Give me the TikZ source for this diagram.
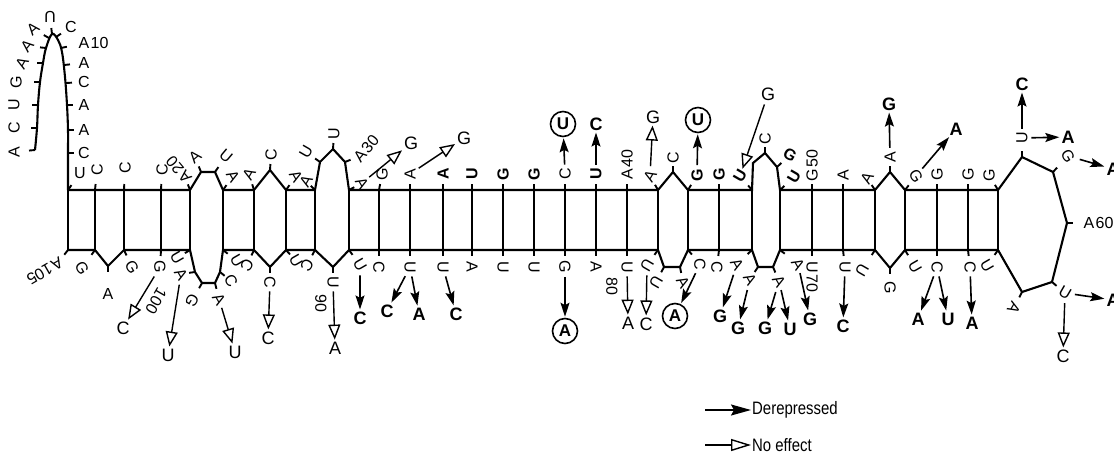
\documentclass[tikz,border=0pt]{standalone}
\usepackage{fontspec}
\setmainfont{Liberation Sans}
\newfontfamily\legfont{Liberation Sans}[FakeStretch=0.83]
\usetikzlibrary{arrows.meta,calc}
\begin{document}
\begin{tikzpicture}[x=1pt,y=-1pt,
  strand/.style={line width=2.1pt,line join=miter},
  tk/.style={line width=1.9pt},
  nt/.style={font=\fontsize{16}{16}\selectfont,inner sep=0.5pt},
  ntb/.style={font=\fontsize{16}{16}\selectfont\bfseries,inner sep=0.5pt},
  num/.style={font=\fontsize{16}{16}\selectfont,inner sep=0.5pt,anchor=west},
  mb/.style={font=\fontsize{18}{18}\selectfont\bfseries,inner sep=1pt},
  mr/.style={font=\fontsize{18}{18}\selectfont,inner sep=1pt},
  mc/.style={circle,draw,line width=1.6pt,minimum size=25pt,inner sep=0pt,font=\fontsize{17}{17}\selectfont\bfseries},
  der/.style={line width=1.6pt,-{Stealth[length=14pt,width=9pt,inset=2.5pt]},shorten <=3pt,shorten >=1pt},
  noe/.style={line width=1.4pt,-{Triangle[open,length=15pt,width=12pt]},shorten <=3pt,shorten >=1pt},
  leg/.style={anchor=west,font=\legfont\fontsize{18}{18}\selectfont,inner sep=1pt},
]
\useasboundingbox (0,0) rectangle (1114,471);

% rungs
\foreach \i/\x in {1/68,2/95,3/124,4/161,5/190,6/223,7/254,8/286,9/315,10/349,11/379,12/410,13/443,14/472,15/503,16/534,17/565,18/596,19/627,20/658,21/688,22/719,23/752,24/780,25/812,26/843,27/875,28/905,29/937,30/968,31/998}{
  \coordinate (t\i) at (\x,190);
  \coordinate (b\i) at (\x,250);
  \draw[strand] (t\i) -- (b\i);
}
% loop vertices
\coordinate (v21) at (201,172); \coordinate (v22) at (215,172);
\coordinate (v25) at (270,170);
\coordinate (v28) at (320,162); \coordinate (v29) at (333,149); \coordinate (v30) at (345,162);
\coordinate (v42) at (673,172);
\coordinate (v46) at (753,163); \coordinate (v47) at (765,153); \coordinate (v48) at (777,167);
\coordinate (v53) at (890,172);
\coordinate (v58) at (1022,157); \coordinate (v59) at (1053,172); \coordinate (v60) at (1067,223);
\coordinate (v61) at (1052,282); \coordinate (v62) at (1022,292);
\coordinate (v67) at (890,268);
\coordinate (v72) at (773,267); \coordinate (v73) at (758,267);
\coordinate (v77) at (680,267); \coordinate (v78) at (664,267);
\coordinate (v90) at (333,267); \coordinate (v93) at (270,267);
\coordinate (v96) at (220,272); \coordinate (v97) at (215,283); \coordinate (v98) at (202,283); \coordinate (v99) at (195,272);
\coordinate (v103) at (108,266);

% strands
\draw[strand] (t1) -- (t5) -- (v21) -- (v22) -- (t6) -- (t7) -- (v25) -- (t8) -- (t9) -- (v28) -- (v29) -- (v30) -- (t10)
  -- (t20) -- (v42) -- (t21) -- (t23) -- (v46) -- (v47) -- (v48) -- (t24) -- (t27) -- (v53) -- (t28) -- (t31)
  -- (v58) -- (v59) -- (v60) -- (v61) -- (v62) -- (b31) -- (b28) -- (v67) -- (b27) -- (b24) -- (v72) -- (v73) -- (b23)
  -- (b21) -- (v77) -- (v78) -- (b20) -- (b10) -- (v90) -- (b9) -- (b8) -- (v93) -- (b7) -- (b6) -- (v96) -- (v97)
  -- (v98) -- (v99) -- (b5) -- (b3) -- (v103) -- (b2) -- (b1);

% hairpin arch
\foreach \i/\x/\y in {1/35/150,2/37/128,3/38/105,4/40/82,5/43/63,6/46/48,7/49/38,8/52/34,9/56/37,10/61/48,11/64/65,12/66/83,13/67/105,14/68/130,15/68/153}
  \coordinate (p\i) at (\x,\y);
\draw[strand] plot[smooth,tension=0.6] coordinates {(35,150) (37,128) (38,105) (40,82) (43,63) (46,48) (52,34) (58,40) (62,52) (65,77) (67,105) (68,130) (68,153) (68,190)};

% arch labels
\node[nt,rotate=90] (a1) at (14,152) {A};
\node[nt,rotate=90] (a2) at (14,128) {C};
\node[nt,rotate=90] (a3) at (14,105) {U};
\node[nt,rotate=90] (a4) at (16,82) {G};
\node[nt,rotate=60] (a5) at (22,63) {A};
\node[nt,rotate=50] (a6) at (27,46) {A};
\node[nt,rotate=40] (a7) at (33,29) {A};
\node[nt,rotate=180] (a8) at (50,17) {U};
\node[nt] (a9) at (71,27) {C};
\node[nt] (a10) at (84,43) {A};
\node[num] (k10) at (a10.east) {10};
\node[nt] (a11) at (84,63) {A};
\node[nt] (a12) at (84,82) {C};
\node[nt] (a13) at (84,105) {A};
\node[nt] (a14) at (84,130) {A};
\node[nt] (a15) at (84,153) {C};

% top labels
\node[nt] (n16) at (80,173) {U};
\node[nt,rotate=90] (n17) at (97,170) {C};
\node[nt,rotate=90] (n18) at (125,168) {C};
\node[nt,rotate=90] (n19) at (162,170) {C};
\node[nt,rotate=130] (n20) at (185,177) {A};
\node[num,rotate=130] (k20) at (n20.east) {20};
\node[nt,rotate=40] (n21) at (195,157) {A};
\node[nt,rotate=-40] (n22) at (226,156) {U};
\node[nt,rotate=-60] (n23) at (233,176) {A};
\node[nt,rotate=60] (n24) at (249,174) {A};
\node[nt,rotate=90] (n25) at (271,155) {C};
\node[nt,rotate=-60] (n26) at (296,176) {A};
\node[nt,rotate=60] (n27) at (306,181) {A};
\node[nt,rotate=60] (n28) at (306,152) {U};
\node[nt,rotate=90] (n29) at (334,134) {U};
\node[nt,rotate=50] (n30) at (360,156) {A};
\node[num,rotate=50] (k30) at (n30.east) {30};
\node[nt,rotate=-60] (n31) at (362,183) {A};
\node[nt,rotate=90] (n32) at (382,174) {G};
\node[nt,rotate=90] (n33) at (410,174) {A};
\node[ntb,rotate=90] (n34) at (443,174) {A};
\node[ntb,rotate=90] (n35) at (472,174) {U};
\node[ntb,rotate=90] (n36) at (503,174) {G};
\node[ntb,rotate=90] (n37) at (534,174) {G};
\node[nt,rotate=90] (n38) at (565,174) {C};
\node[ntb,rotate=90] (n39) at (596,174) {U};
\node[nt,rotate=90] (n40) at (627,174) {A};
\node[num,rotate=90] (k40) at (n40.east) {40};
\node[nt,rotate=60] (n41) at (650,176) {A};
\node[nt,rotate=90] (n42) at (673,158) {C};
\node[ntb,rotate=90] (n43) at (697,175) {G};
\node[ntb,rotate=90] (n44) at (719,174) {G};
\node[ntb,rotate=60] (n45) at (740,176) {U};
\node[nt,rotate=90] (n47) at (765,139) {C};
\node[ntb,rotate=-30] (n48) at (790,155) {G};
\node[ntb,rotate=60] (n49) at (794,177) {U};
\node[nt,rotate=90] (n50) at (812,175) {G};
\node[num,rotate=90] (k50) at (n50.east) {50};
\node[nt,rotate=90] (n51) at (843,175) {A};
\node[nt,rotate=60] (n52) at (867,178) {A};
\node[nt,rotate=90] (n53) at (890,157) {A};
\node[nt,rotate=-60] (n54) at (916,176) {G};
\node[nt,rotate=90] (n55) at (937,174) {G};
\node[nt,rotate=90] (n56) at (968,174) {G};
\node[nt,rotate=90] (n57) at (989,175) {G};
\node[nt,rotate=90] (n58) at (1022,138) {U};
\node[nt,rotate=-60] (n59) at (1068,156) {G};
\node[nt] (n60) at (1089,223) {A};
\node[num] (k60) at (n60.east) {60};
\node[nt,rotate=-30] (n61) at (1065,293) {U};
\node[nt,rotate=-120] (n62) at (1014,308) {A};

% bottom labels
\node[nt,rotate=-60] (n63) at (987,266) {U};
\node[nt,rotate=-90] (n64) at (970,267) {C};
\node[nt,rotate=-90] (n65) at (937,267) {C};
\node[nt,rotate=-60] (n66) at (915,267) {U};
\node[nt,rotate=-90] (n67) at (890,288) {G};
\node[nt,rotate=-120] (n68) at (862,270) {U};
\node[nt,rotate=-90] (n69) at (845,267) {U};
\node[nt,rotate=-90] (n70) at (812,267) {U};
\node[num,rotate=-90] (k70) at (n70.east) {70};
\node[nt,rotate=-60] (n71) at (798,264) {A};
\node[nt,rotate=-60] (n72) at (779,281) {A};
\node[nt,rotate=-60] (n73) at (750,279) {A};
\node[nt,rotate=-60] (n74) at (737,264) {A};
\node[nt,rotate=-90] (n75) at (717,267) {C};
\node[nt,rotate=-90] (n76) at (700,264) {C};
\node[nt,rotate=-60] (n77) at (683,282) {A};
\node[nt,rotate=-120] (n78) at (656,282) {U};
\node[nt,rotate=-120] (n79) at (647,265) {U};
\node[nt,rotate=-90] (n80) at (627,267) {U};
\node[nt,rotate=-90] (k80) at (612,286) {80};
\node[nt,rotate=-90] (n81) at (596,267) {A};
\node[nt,rotate=-90] (n82) at (565,267) {G};
\node[nt,rotate=-90] (n83) at (534,267) {U};
\node[nt,rotate=-90] (n84) at (503,267) {U};
\node[nt,rotate=-90] (n85) at (472,267) {A};
\node[nt,rotate=-90] (n86) at (443,267) {U};
\node[nt,rotate=-90] (n87) at (410,267) {U};
\node[nt,rotate=-90] (n88) at (379,267) {C};
\node[nt,rotate=-60] (n89) at (360,265) {U};
\node[nt,rotate=-90] (n90) at (333,282) {U};
\node[nt,rotate=-90] (k90) at (321,303) {90};
\node[nt,rotate=-120] (n91) at (307,265) {C};
\node[nt,rotate=-60] (n92) at (296,261) {U};
\node[nt,rotate=-90] (n93) at (270,282) {C};
\node[nt,rotate=-120] (n94) at (247,265) {C};
\node[nt,rotate=-60] (n95) at (237,261) {U};
\node[nt,rotate=-60] (n96) at (231,281) {C};
\node[nt,rotate=-60] (n97) at (219,299) {A};
\node[nt,rotate=-120] (n98) at (192,301) {G};
\node[nt,rotate=-60] (n99) at (181,274) {A};
\node[nt,rotate=-60] (n100) at (177,258) {U};
\node[nt,rotate=-120] (k100) at (156,301) {100};
\node[nt,rotate=-90] (n101) at (160,267) {G};
\node[nt,rotate=-60] (n102) at (132,267) {G};
\node[nt] (n103) at (108,294) {A};
\node[nt,rotate=-60] (n104) at (82,268) {G};
\node[nt,rotate=210] (n105) at (57,264) {A};
\node[num,rotate=210] (k105) at (n105.east) {105};

% ticks
\foreach \p/\n in {p1/a1,p2/a2,p3/a3,p4/a4,p5/a5,p6/a6,p7/a7,p8/a8,p9/a9,p10/a10,p11/a11,p12/a12,p13/a13,p14/a14,p15/a15,
  t1/n16,t2/n17,t3/n18,t4/n19,t5/n20,v21/n21,v22/n22,t6/n23,t7/n24,v25/n25,t8/n26,t9/n27,v28/n28,v29/n29,v30/n30,t10/n31,
  t11/n32,t12/n33,t13/n34,t14/n35,t15/n36,t16/n37,t17/n38,t18/n39,t19/n40,t20/n41,v42/n42,t21/n43,t22/n44,t23/n45,
  v47/n47,v48/n48,t24/n49,t25/n50,t26/n51,t27/n52,v53/n53,t28/n54,t29/n55,t30/n56,t31/n57,v58/n58,v59/n59,v60/n60,v61/n61,v62/n62,
  b31/n63,b30/n64,b29/n65,b28/n66,v67/n67,b27/n68,b26/n69,b25/n70,b24/n71,v72/n72,v73/n73,b23/n74,b22/n75,b21/n76,v77/n77,v78/n78,
  b20/n79,b19/n80,b18/n81,b17/n82,b16/n83,b15/n84,b14/n85,b13/n86,b12/n87,b11/n88,b10/n89,v90/n90,b9/n91,b8/n92,v93/n93,b7/n94,b6/n95,
  v96/n96,v97/n97,v98/n98,v99/n99,b5/n100,b4/n101,b3/n102,v103/n103,b2/n104,b1/n105}
  \draw[tk] (\p) -- ($(\p)!6pt!(\n)$);

% mutation targets (top)
\node[mr] (g31) at (411,143) {G};
\node[mr] (g33) at (464,138) {G};
\node[mc] (u38) at (563,124) {U};
\node[mb] (c39) at (596,124) {C};
\node[mr] (g41) at (653,117) {G};
\node[mc] (u43) at (698,120) {U};
\node[mr] (g45) at (768,94) {G};
\node[mb] (g53) at (889,104) {G};
\node[mb] (a54) at (956,129) {A};
\node[mb] (c58) at (1022,84) {C};
\node[mb] (a58) at (1068,137) {A};
\node[mb] (a59) at (1113,169) {A};
% mutation targets (bottom)
\node[mr] (u99) at (168,355) {U};
\node[mr] (c101) at (123,328) {C};
\node[mr] (u97) at (235,352) {U};
\node[mr] (c93) at (268,338) {C};
\node[mr] (a90) at (335,348) {A};
\node[mb] (c89) at (360,318) {C};
\node[mb] (c87) at (387,311) {C};
\node[mb] (a87) at (419,314) {A};
\node[mb] (c86) at (456,314) {C};
\node[mc] (a82) at (565,331) {A};
\node[mr] (a80) at (628,323) {A};
\node[mr] (c79) at (646,324) {C};
\node[mc] (a76) at (675,316) {A};
\node[mb] (g74) at (720,316) {G};
\node[mb] (g73) at (738,328) {G};
\node[mb] (g72) at (765,328) {G};
\node[mb] (u72) at (790,329) {U};
\node[mb] (g71) at (810,319) {G};
\node[mb] (c69) at (843,326) {C};
\node[mb] (a65) at (918,319) {A};
\node[mb] (u65) at (948,319) {U};
\node[mb] (a64) at (972,323) {A};
\node[mb] (a61) at (1113,300) {A};
\node[mr] (c61) at (1063,356) {C};

% mutation arrows
\draw[noe] (n31) -- (g31);
\draw[noe] (n33) -- (g33);
\draw[der] (n38) -- (u38);
\draw[der] (n39) -- (c39);
\draw[noe] (n41) -- (g41);
\draw[der] (n43) -- (u43);
\draw[noe] (g45) -- (n45);
\draw[der] (n53) -- (g53);
\draw[der] (n54) -- (a54);
\draw[der] (n58) -- (c58);
\draw[der] (n58) -- (a58);
\draw[der] (n59) -- (a59);
\draw[noe] (n99) -- (u99);
\draw[noe] (n101) -- (c101);
\draw[noe] (n97) -- (u97);
\draw[noe] (n93) -- (c93);
\draw[noe] (n90) -- (a90);
\draw[der] (n89) -- (c89);
\draw[der] (n87) -- (c87);
\draw[der] (n87) -- (a87);
\draw[der] (n86) -- (c86);
\draw[der] (n82) -- (a82);
\draw[noe] (n80) -- (a80);
\draw[noe] (n79) -- (c79);
\draw[der] (n76) -- (a76);
\draw[der] (n74) -- (g74);
\draw[der] (n73) -- (g73);
\draw[der] (n72) -- (g72);
\draw[der] (n72) -- (u72);
\draw[der] (n71) -- (g71);
\draw[der] (n69) -- (c69);
\draw[der] (n65) -- (a65);
\draw[der] (n65) -- (u65);
\draw[der] (n64) -- (a64);
\draw[der] (n61) -- (a61);
\draw[noe] (n61) -- (c61);

% legend
\coordinate (L1) at (705,410);
\coordinate (L2) at (705,445);
\node[leg] (lg1) at (751,410) {Derepressed};
\node[leg] (lg2) at (751,445) {No effect};
\draw[line width=1.6pt,-{Stealth[length=20pt,width=11pt,inset=3pt]}] (L1) -- (lg1.west);
\draw[line width=1.4pt,-{Triangle[open,length=20pt,width=12pt]}] (L2) -- (lg2.west);
\end{tikzpicture}
\end{document}
